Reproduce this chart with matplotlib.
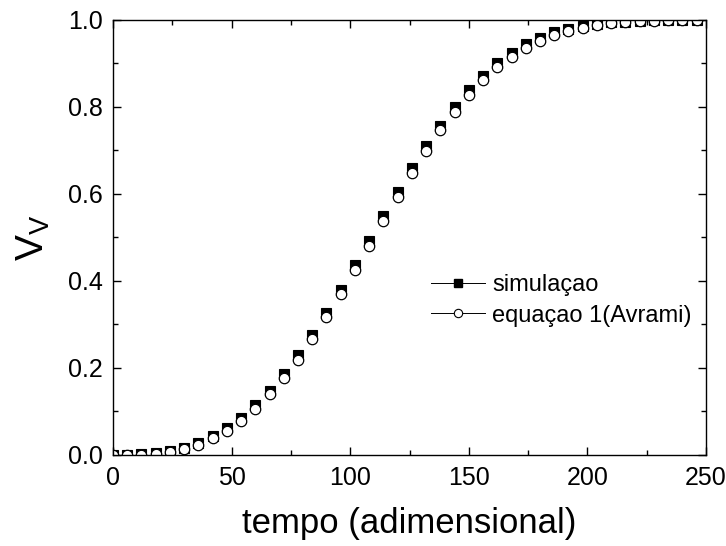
import matplotlib
matplotlib.use("Agg")
import matplotlib.pyplot as plt
from matplotlib.ticker import MultipleLocator, FormatStrFormatter

plt.rcParams["font.family"] = ["Liberation Sans", "DejaVu Sans"]
plt.rcParams["mathtext.fontset"] = "custom"
plt.rcParams["mathtext.rm"] = "Liberation Sans"
plt.rcParams["mathtext.it"] = "Liberation Sans:italic"

tempo = [0, 6, 12, 18, 24, 30, 36, 42, 48, 54, 60, 66, 72, 78, 84, 90, 96, 102,
         108, 114, 120, 126, 132, 138, 144, 150, 156, 162, 168, 174, 180, 186,
         192, 198, 204, 210, 216, 222, 228, 234, 240, 246]

simulacao = [0.0, 0.0002, 0.0012, 0.004, 0.009, 0.017, 0.028, 0.043, 0.062,
             0.086, 0.114, 0.148, 0.186, 0.229, 0.276, 0.327, 0.380, 0.436,
             0.492, 0.549, 0.605, 0.659, 0.709, 0.757, 0.800, 0.838, 0.872,
             0.900, 0.924, 0.944, 0.959, 0.971, 0.980, 0.986, 0.991, 0.994,
             0.996, 0.998, 0.999, 0.999, 1.0, 1.0]

avrami = [0.0, 0.0001, 0.0009, 0.003, 0.007, 0.014, 0.024, 0.038, 0.056,
          0.079, 0.106, 0.139, 0.177, 0.219, 0.266, 0.316, 0.369, 0.425,
          0.481, 0.538, 0.593, 0.647, 0.698, 0.746, 0.789, 0.828, 0.862,
          0.891, 0.915, 0.936, 0.952, 0.965, 0.975, 0.982, 0.988, 0.992,
          0.995, 0.997, 0.998, 0.999, 0.999, 1.0]

fs = 18

fig = plt.figure(figsize=(7.26, 5.46), dpi=100)
ax = fig.add_axes([0.1556, 0.1667, 0.817, 0.797])

ax.plot(tempo, simulacao, ls="none", marker="s", ms=7, mfc="black",
        mec="black", mew=0.8, label="simulaçao")
ax.plot(tempo, avrami, ls="none", marker="o", ms=7.5, mfc="white",
        mec="black", mew=0.9, label="equaçao 1(Avrami)")

ax.set_xlim(0, 250)
ax.set_ylim(0, 1.0)
ax.xaxis.set_major_locator(MultipleLocator(50))
ax.xaxis.set_minor_locator(MultipleLocator(25))
ax.yaxis.set_major_locator(MultipleLocator(0.2))
ax.yaxis.set_minor_locator(MultipleLocator(0.1))
ax.yaxis.set_major_formatter(FormatStrFormatter("%.1f"))

ax.tick_params(which="both", direction="in", top=True, right=True,
               labelsize=fs, width=1.0)
ax.tick_params(which="major", length=6)
ax.tick_params(which="minor", length=3.5)
ax.tick_params(axis="x", pad=8)
ax.tick_params(axis="y", pad=7)
for s in ax.spines.values():
    s.set_linewidth(1.0)

ax.set_xlabel("tempo (adimensional)", fontsize=25, labelpad=12)
ax.set_ylabel(r"$\mathrm{V}_\mathrm{V}$", fontsize=28, labelpad=12)

# legend handles with a thin line through the marker, like the original
h1 = plt.Line2D([], [], color="black", lw=0.7, marker="s", ms=6,
                mfc="black", mec="black")
h2 = plt.Line2D([], [], color="black", lw=0.7, marker="o", ms=6,
                mfc="white", mec="black", mew=0.8)
ax.legend([h1, h2], ["simulaçao", "equaçao 1(Avrami)"], loc="center right",
          bbox_to_anchor=(1.0, 0.355), frameon=False, fontsize=17,
          handlelength=2.3, handletextpad=0.3, labelspacing=0.35,
          borderaxespad=0.2)

fig.savefig("out.png", dpi=100)
